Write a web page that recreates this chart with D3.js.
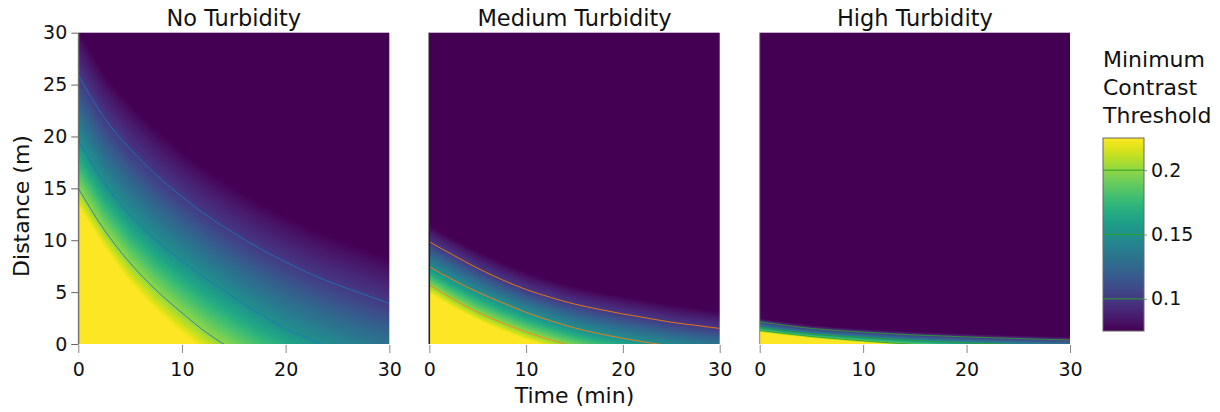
<!DOCTYPE html>
<html lang="en">
<head>
<meta charset="utf-8" />
<title>Minimum Contrast Threshold</title>
<script src="https://cdn.jsdelivr.net/npm/d3@7"></script>
<style>
  body { margin: 0; background: #fff; }
  svg { display: block; font-family: "DejaVu Sans", Verdana, sans-serif; }
</style>
</head>
<body>
<svg id="chart" width="1220" height="412"></svg>
<script>
const times = [0, 2.5, 5, 7.5, 10, 12.5, 15, 17.5, 20, 22.5, 25, 27.5, 30];
// threshold levels; each row of a panel array = distance (m) of that level at each time
const levels = [0.075, 0.1, 0.15, 0.2, 0.225];
const contourLevels = [0.1, 0.15, 0.2];

const noTurbidity = [
  [30.4, 26.1, 23.2, 20.8, 18.7, 16.8, 15.2, 13.7, 12.4, 11.2, 10.2, 9.3, 8.4],
  [25.9, 21.8, 18.8, 16.3, 14.2, 12.3, 10.7, 9.2, 7.9, 6.7, 5.7, 4.8, 3.9],
  [19.6, 15.5, 12.4, 10.0, 8.0, 6.2, 4.5, 2.9, 1.5, 0.4, -0.6, -1.5, -2.3],
  [15.0, 11.0, 7.8, 5.2, 3.0, 1.0, -0.6, -2.0, -3.2, -4.3, -5.3, -6.2, -7.0],
  [13.3, 9.3, 5.9, 3.2, 1.0, -0.9, -2.5, -3.8, -5.0, -6.1, -7.1, -8.0, -8.8]
];
const mediumTurbidity = [
  [11.5, 10.2, 9.0, 7.9, 6.95, 6.2, 5.55, 5.05, 4.6, 4.2, 3.8, 3.5, 3.2],
  [9.85, 8.55, 7.3, 6.2, 5.25, 4.5, 3.85, 3.35, 2.9, 2.5, 2.1, 1.8, 1.5],
  [7.45, 6.15, 5.0, 4.0, 3.05, 2.25, 1.55, 1.0, 0.55, 0.15, -0.2, -0.55, -0.85],
  [5.7, 4.3, 3.05, 2.05, 1.15, 0.4, -0.25, -0.8, -1.25, -1.65, -2.0, -2.35, -2.65],
  [4.9, 3.5, 2.3, 1.3, 0.4, -0.35, -0.95, -1.45, -1.9, -2.3, -2.65, -3.0, -3.3]
];
const highTurbidity = [
  [2.5, 2.15, 1.85, 1.64, 1.48, 1.33, 1.2, 1.1, 1.0, 0.92, 0.84, 0.77, 0.7],
  [2.15, 1.8, 1.5, 1.3, 1.15, 1.0, 0.87, 0.78, 0.68, 0.6, 0.52, 0.45, 0.39],
  [1.6, 1.25, 0.98, 0.78, 0.62, 0.47, 0.34, 0.22, 0.11, 0.03, -0.05, -0.12, -0.19],
  [1.3, 1.0, 0.72, 0.5, 0.3, 0.12, -0.03, -0.15, -0.25, -0.33, -0.4, -0.47, -0.53],
  [1.15, 0.85, 0.58, 0.36, 0.17, 0.0, -0.14, -0.26, -0.36, -0.44, -0.51, -0.57, -0.63]
];

const panelTitles = ["No Turbidity", "Medium Turbidity", "High Turbidity"];
const panelData = [noTurbidity, mediumTurbidity, highTurbidity];
const lineColors = ["#1f77b4", "#ff7f0e", "#2ca02c"];
const xTicks = [0, 10, 20, 30];
const yTicks = [0, 5, 10, 15, 20, 25, 30];
const colorbarTicks = [0.1, 0.15, 0.2];
const colorbarTitle = ["Minimum", "Contrast", "Threshold"];

const svg = d3.select("#chart");
const plotTop = 32.7, plotBottom = 344;
const panelX = [[78.3, 389.3], [429.3, 719.7], [759.7, 1070]];
const textColor = "#111";
const tickFont = "19px";

const color = d3.scaleSequential(d3.interpolateViridis).domain([0.075, 0.225]);
const yScale = d3.scaleLinear().domain([0, 30]).range([plotBottom, plotTop]);

// distances of each level at time t (linear between read columns)
function levelDistances(rows, t) {
  let i = d3.bisectRight(times, t) - 1;
  i = Math.max(0, Math.min(times.length - 2, i));
  const f = (t - times[i]) / (times[i + 1] - times[i]);
  return rows.map((r) => r[i] + (r[i + 1] - r[i]) * f);
}

function valueAt(ds, d) {
  if (d >= ds[0]) return levels[0];
  if (d <= ds[ds.length - 1]) return levels[levels.length - 1];
  for (let k = 0; k < ds.length - 1; k++) {
    if (d <= ds[k] && d >= ds[k + 1]) {
      const f = (ds[k] - d) / (ds[k] - ds[k + 1] || 1);
      return levels[k] + (levels[k + 1] - levels[k]) * f;
    }
  }
  return levels[0];
}

const defs = svg.append("defs");

panelData.forEach((rows, p) => {
  const xScale = d3.scaleLinear().domain([0, 30]).range(panelX[p]);
  const g = svg.append("g");
  const w = Math.round(panelX[p][1] - panelX[p][0]);
  const h = Math.round(plotBottom - plotTop);

  // heatmap drawn on a canvas, placed as an image
  const canvas = document.createElement("canvas");
  canvas.width = w;
  canvas.height = h;
  const ctx = canvas.getContext("2d");
  const img = ctx.createImageData(w, h);
  for (let px = 0; px < w; px++) {
    const t = xScale.invert(panelX[p][0] + px + 0.5);
    const ds = levelDistances(rows, t);
    for (let py = 0; py < h; py++) {
      const d = yScale.invert(plotTop + py + 0.5);
      const c = d3.rgb(color(valueAt(ds, d)));
      const o = (py * w + px) * 4;
      img.data[o] = c.r;
      img.data[o + 1] = c.g;
      img.data[o + 2] = c.b;
      img.data[o + 3] = 255;
    }
  }
  ctx.putImageData(img, 0, 0);

  g.append("image")
    .attr("x", panelX[p][0])
    .attr("y", plotTop)
    .attr("width", panelX[p][1] - panelX[p][0])
    .attr("height", plotBottom - plotTop)
    .attr("preserveAspectRatio", "none")
    .attr("href", canvas.toDataURL());

  defs.append("clipPath")
    .attr("id", "clip" + p)
    .append("rect")
    .attr("x", panelX[p][0])
    .attr("y", plotTop)
    .attr("width", panelX[p][1] - panelX[p][0])
    .attr("height", plotBottom - plotTop);

  const line = d3.line()
    .x((d, i) => xScale(times[i]))
    .y((d) => yScale(d))
    .curve(d3.curveMonotoneX);

  g.append("g")
    .attr("clip-path", `url(#clip${p})`)
    .selectAll("path")
    .data(contourLevels.map((lv) => rows[levels.indexOf(lv)]))
    .enter()
    .append("path")
    .attr("d", line)
    .attr("fill", "none")
    .attr("stroke", lineColors[p])
    .attr("stroke-opacity", 0.85)
    .attr("stroke-width", 1);

  // x axis
  const xAxis = g.append("g")
    .attr("transform", `translate(0, ${plotBottom})`)
    .call(d3.axisBottom(xScale).tickValues(xTicks).tickSize(8).tickPadding(11).tickSizeOuter(0));
  xAxis.select(".domain").remove();
  xAxis.selectAll("line").attr("stroke", "#888").attr("transform", "translate(0,1)");
  xAxis.selectAll("text")
    .attr("fill", textColor)
    .style("font-size", tickFont)
    .style("font-family", "DejaVu Sans");

  // left edge line
  g.append("line")
    .attr("x1", panelX[p][0]).attr("x2", panelX[p][0])
    .attr("y1", plotTop).attr("y2", plotBottom)
    .attr("stroke", p === 1 ? "#222" : "#888")
    .attr("stroke-width", p === 1 ? 1.6 : 1);

  g.append("text")
    .attr("x", (panelX[p][0] + panelX[p][1]) / 2)
    .attr("y", 25.7)
    .attr("text-anchor", "middle")
    .attr("fill", textColor)
    .style("font-size", "22.5px")
    .text(panelTitles[p]);
});

// y axis on first panel
const yAxis = svg.append("g")
  .attr("transform", `translate(${panelX[0][0]}, 0)`)
  .call(d3.axisLeft(yScale).tickValues(yTicks).tickSize(7).tickPadding(4).tickSizeOuter(0));
yAxis.select(".domain").attr("stroke", "#666");
yAxis.selectAll("line").attr("stroke", "#666");
yAxis.selectAll("text")
  .attr("fill", textColor)
  .style("font-size", tickFont)
  .style("font-family", "DejaVu Sans");

svg.append("text")
  .attr("transform", `translate(29, 206) rotate(-90)`)
  .attr("text-anchor", "middle")
  .attr("fill", textColor)
  .style("font-size", "22px")
  .text("Distance (m)");

svg.append("text")
  .attr("x", (panelX[1][0] + panelX[1][1]) / 2)
  .attr("y", 403.3)
  .attr("text-anchor", "middle")
  .attr("fill", textColor)
  .style("font-size", "22px")
  .text("Time (min)");

// colour bar
const cbX = 1103, cbW = 41, cbTop = 138, cbBottom = 331;
const cbScale = d3.scaleLinear().domain([0.075, 0.225]).range([cbBottom, cbTop]);
const grad = defs.append("linearGradient")
  .attr("id", "cbGrad")
  .attr("x1", 0).attr("y1", 1).attr("x2", 0).attr("y2", 0);
grad.selectAll("stop")
  .data(d3.range(0, 1.0001, 0.05))
  .enter()
  .append("stop")
  .attr("offset", (d) => d)
  .attr("stop-color", (d) => d3.interpolateViridis(d));

svg.append("rect")
  .attr("x", cbX).attr("y", cbTop)
  .attr("width", cbW).attr("height", cbBottom - cbTop)
  .attr("fill", "url(#cbGrad)")
  .attr("stroke", "#666")
  .attr("stroke-width", 1);

svg.append("g")
  .selectAll("line")
  .data(colorbarTicks)
  .enter()
  .append("line")
  .attr("x1", cbX).attr("x2", cbX + cbW)
  .attr("y1", (d) => cbScale(d)).attr("y2", (d) => cbScale(d))
  .attr("stroke", lineColors[2])
  .attr("stroke-width", 1);

const cbAxis = svg.append("g")
  .attr("transform", `translate(${cbX + cbW}, 0)`)
  .call(d3.axisRight(cbScale).tickValues(colorbarTicks).tickFormat(d3.format("")).tickSize(3).tickPadding(4).tickSizeOuter(0));
cbAxis.select(".domain").remove();
cbAxis.selectAll("line").attr("stroke", "#888");
cbAxis.selectAll("text")
  .attr("fill", textColor)
  .style("font-size", tickFont)
  .style("font-family", "DejaVu Sans");

svg.append("g")
  .selectAll("text")
  .data(colorbarTitle)
  .enter()
  .append("text")
  .attr("x", cbX)
  .attr("y", (d, i) => 66.7 + i * 28.3)
  .attr("fill", textColor)
  .style("font-size", "22px")
  .text((d) => d);
</script>
</body>
</html>
